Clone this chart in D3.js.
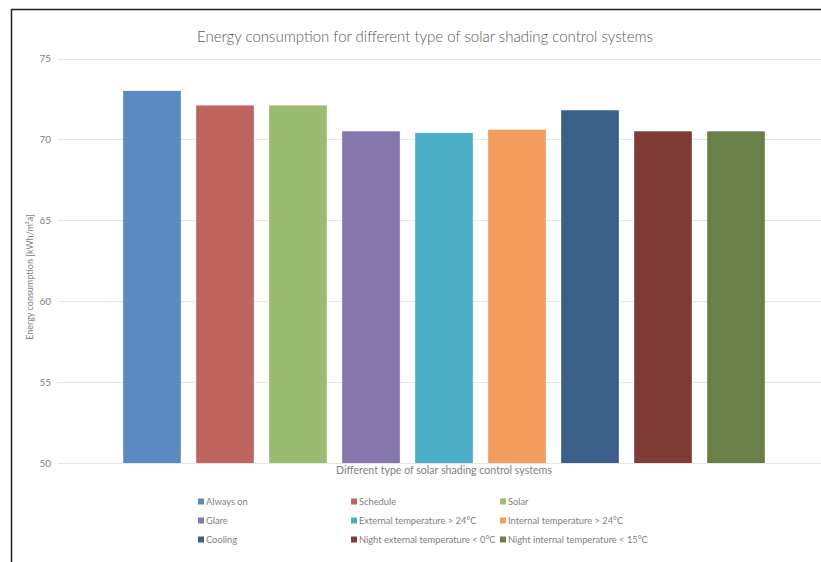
<!DOCTYPE html>
<html><head><meta charset="utf-8">
<script src="https://cdn.jsdelivr.net/npm/d3@7"></script>
<style>
html,body{margin:0;padding:0;background:#fff;}
svg{display:block;font-family:Lato,"Open Sans",sans-serif;}
</style></head>
<body>
<svg id="c" width="821" height="562"></svg>
<script>
const categories = ["Always on","Schedule","Solar","Glare","External temperature > 24°C","Internal temperature > 24°C","Cooling","Night external temperature < 0°C","Night internal temperature < 15°C"];
const values = [73.0, 72.1, 72.1, 70.5, 70.4, 70.6, 71.8, 70.5, 70.5];
const colors = ["#5A8AC0","#C0645F","#9ABB72","#8576AD","#4BAEC6","#F29D5D","#3A5F88","#7E3B38","#6A8048"];
const yTicks = [50, 55, 60, 65, 70, 75];

const svg = d3.select("#c");
// frame
svg.append("line").attr("x1",11).attr("x2",821).attr("y1",9.5).attr("y2",9.5).attr("stroke","#222").attr("stroke-width",1.5);
svg.append("line").attr("x1",11.5).attr("x2",11.5).attr("y1",9).attr("y2",562).attr("stroke","#222").attr("stroke-width",1.5);

const y = d3.scaleLinear().domain([50,75]).range([463,58.5]);
const x = d3.scaleBand().domain(categories).range([115.5,772.5]).paddingInner(0.21).paddingOuter(0.105);

// gridlines
svg.append("g").selectAll("line").data(yTicks).join("line")
  .attr("x1",58).attr("x2",821).attr("y1",d=>Math.round(y(d))+0.5).attr("y2",d=>Math.round(y(d))+0.5)
  .attr("stroke","#e6e6e6").attr("stroke-width",1);

const yAxis = d3.axisLeft(y).tickValues(yTicks).tickSize(0).tickPadding(0);
const ga = svg.append("g").attr("transform","translate(51,0)").call(yAxis);
ga.select(".domain").remove();
ga.selectAll("text").attr("fill","#7f7f7f").attr("font-size",10).attr("font-family","Lato,'Open Sans',sans-serif");

// bars
svg.append("g").selectAll("rect").data(values).join("rect")
  .attr("x",(d,i)=>x(categories[i])).attr("width",x.bandwidth())
  .attr("y",d=>y(d)).attr("height",d=>y(50)-y(d))
  .attr("fill",(d,i)=>colors[i]);

// title
svg.append("text").attr("x",425).attr("y",42).attr("text-anchor","middle")
  .attr("font-size",15).attr("fill","#595959").attr("font-weight",300)
  .text("Energy consumption for different type of solar shading control systems");

// y axis title
svg.append("text").attr("transform","translate(33,277) rotate(-90)").attr("text-anchor","middle")
  .attr("font-size",9).attr("fill","#7f7f7f").text("Energy consumption [kWh/m²a]");

// x axis title
svg.append("text").attr("x",444).attr("y",474).attr("text-anchor","middle")
  .attr("font-size",10.6).attr("fill","#7f7f7f").text("Different type of solar shading control systems");

// legend
const colX = [198, 351, 500];
const rowY = [502, 521, 540];
const lg = svg.append("g").selectAll("g").data(categories).join("g")
  .attr("transform",(d,i)=>`translate(${colX[i%3]},${rowY[Math.floor(i/3)]})`);
lg.append("rect").attr("x",0).attr("y",-3.5).attr("width",6).attr("height",6).attr("fill",(d,i)=>colors[i]);
lg.append("text").attr("x",8).attr("y",3).attr("font-size",9.3).attr("fill","#7f7f7f").text(d=>d);
</script>
</body></html>
